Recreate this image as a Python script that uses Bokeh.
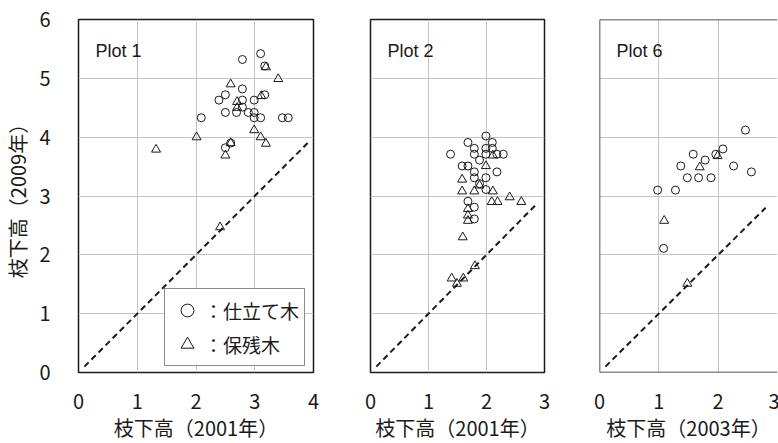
from bokeh.plotting import figure
from bokeh.layouts import row
from bokeh.models import Span, Label, Legend, LegendItem, SingleIntervalTicker, Range1d
from bokeh.embed import file_html
from bokeh.resources import INLINE

# ---- Plot 1: crown base height 2001 vs 2009 ----
p1_pruned_x = [3.10, 2.79, 3.17, 2.79, 2.50, 2.39, 3.17, 2.79, 2.99, 2.09, 2.50, 2.69,
               2.79, 2.89, 2.99, 2.99, 3.10, 3.47, 3.57, 2.50, 2.59]
p1_pruned_y = [5.42, 5.32, 5.21, 4.82, 4.72, 4.63, 4.72, 4.63, 4.63, 4.33, 4.42, 4.42,
               4.51, 4.42, 4.42, 4.33, 4.33, 4.33, 4.33, 3.82, 3.90]
p1_retained_x = [3.19, 3.40, 2.59, 3.11, 2.70, 2.70, 2.99, 3.10, 3.19, 2.01, 1.32, 2.59,
                 2.50, 2.41]
p1_retained_y = [5.19, 4.99, 4.90, 4.70, 4.60, 4.50, 4.12, 4.00, 3.89, 4.00, 3.79, 3.90,
                 3.69, 2.47]

# ---- Plot 2: crown base height 2001 vs 2009 ----
p2_pruned_x = [1.99, 1.68, 2.10, 1.79, 1.99, 2.10, 1.38, 1.79, 1.99, 2.18, 2.29, 1.88,
               1.58, 1.68, 1.79, 2.18, 1.79, 1.99, 1.88, 1.99, 1.68, 1.79, 1.79]
p2_pruned_y = [4.02, 3.91, 3.91, 3.81, 3.81, 3.81, 3.71, 3.71, 3.71, 3.71, 3.71, 3.61,
               3.51, 3.51, 3.41, 3.41, 3.31, 3.31, 3.21, 3.11, 2.91, 2.81, 2.61]
p2_retained_x = [2.11, 1.99, 1.58, 1.88, 1.58, 1.79, 2.11, 2.09, 2.19, 2.40, 2.60, 1.68,
                 1.68, 1.68, 1.59, 1.80, 1.40, 1.60, 1.49]
p2_retained_y = [3.69, 3.51, 3.28, 3.18, 3.08, 3.08, 3.08, 2.90, 2.90, 2.98, 2.90, 2.78,
                 2.67, 2.58, 2.30, 1.81, 1.60, 1.60, 1.51]

# ---- Plot 6: crown base height 2003 vs 2009 ----
p6_pruned_x = [2.46, 2.08, 1.58, 1.96, 1.78, 1.37, 2.26, 2.56, 1.48, 1.67, 1.88, 0.98,
               1.28, 1.08]
p6_pruned_y = [4.12, 3.80, 3.71, 3.71, 3.61, 3.51, 3.51, 3.41, 3.31, 3.31, 3.31, 3.10,
               3.10, 2.11]
p6_retained_x = [1.99, 1.69, 1.09, 1.48]
p6_retained_y = [3.68, 3.49, 2.58, 1.51]

# 1:1 reference lines
p1_line = [0.1, 3.9]
p2_line = [0.1, 2.85]
p6_line = [0.1, 2.8]

panel_titles = ["Plot 1", "Plot 2", "Plot 6"]
x_titles = ["枝下高（2001年）", "枝下高（2001年）", "枝下高（2003年）"]
y_title = "枝下高（2009年）"
legend_labels = ["：仕立て木", "：保残木"]

JP = "Noto Sans CJK JP"
INK = "#1a1a1a"
GRID = "#c4c4c4"


def make_panel(x_max, frame_w, left, right, title, xtitle, px, py, rx, ry, line,
               show_y=False, outline=True):
    p = figure(frame_width=frame_w, frame_height=353,
               min_border_left=left, min_border_right=right,
               min_border_top=19, min_border_bottom=71,
               x_range=Range1d(0, x_max), y_range=Range1d(0, 6),
               output_backend="svg", toolbar_location=None,
               background_fill_color="white", border_fill_color="white")
    p.xaxis.ticker = SingleIntervalTicker(interval=1)
    p.yaxis.ticker = SingleIntervalTicker(interval=1)
    p.xgrid.grid_line_color = GRID
    p.ygrid.grid_line_color = GRID
    p.xgrid.grid_line_width = 1
    p.ygrid.grid_line_width = 1

    for ax in (p.xaxis, p.yaxis):
        ax.major_tick_line_color = None
        ax.minor_tick_line_color = None
        ax.major_tick_out = 0
        ax.major_tick_in = 0
        ax.minor_tick_out = 0
        ax.minor_tick_in = 0
        ax.axis_line_color = None
        ax.major_label_text_font = JP
        ax.major_label_text_font_size = "20px"
        ax.major_label_text_color = INK
        ax.axis_label_text_font = JP
        ax.axis_label_text_font_size = "20px"
        ax.axis_label_text_font_style = "normal"
        ax.axis_label_text_color = INK

    p.xaxis.axis_label = xtitle
    p.xaxis.major_label_standoff = 21
    p.xaxis.axis_label_standoff = 1

    if show_y:
        p.yaxis.axis_label = y_title
        p.yaxis.major_label_standoff = 28
        p.yaxis.axis_label_standoff = 4
    else:
        p.yaxis.visible = False

    if outline:
        p.outline_line_color = INK
        p.outline_line_width = 1.5
    else:
        p.outline_line_color = None
        for loc, dim in ((0, "height"), (6, "width"), (0, "width")):
            p.add_layout(Span(location=loc, dimension=dim, line_color=INK, line_width=1.5))

    p.line(line, line, line_color=INK, line_width=2, line_dash="6 4")
    rc = p.scatter(px, py, marker="circle", size=8, fill_color=None,
                   line_color=INK, line_width=1)
    rt = p.scatter(rx, ry, marker="triangle", size=9, fill_color=None,
                   line_color=INK, line_width=1)

    p.add_layout(Label(x=0, y=6, x_offset=17, y_offset=-31, text=title,
                       text_font="Liberation Sans", text_font_size="18px",
                       text_color=INK, text_baseline="middle"))
    return p, rc, rt


p1, c1, t1 = make_panel(4, 235, 77, 28, panel_titles[0], x_titles[0],
                        p1_pruned_x, p1_pruned_y, p1_retained_x, p1_retained_y,
                        p1_line, show_y=True)
p2, _, _ = make_panel(3, 174, 29, 27, panel_titles[1], x_titles[1],
                      p2_pruned_x, p2_pruned_y, p2_retained_x, p2_retained_y, p2_line)
p6, _, _ = make_panel(3, 178, 28, 2, panel_titles[2], x_titles[2],
                      p6_pruned_x, p6_pruned_y, p6_retained_x, p6_retained_y, p6_line,
                      outline=False)

legend = Legend(items=[LegendItem(label=legend_labels[0], renderers=[c1]),
                       LegendItem(label=legend_labels[1], renderers=[t1])],
                location=(86, 6), orientation="vertical",
                glyph_width=34, glyph_height=32, spacing=2, padding=5, margin=0,
                label_standoff=0, label_text_font=JP, label_text_font_size="19px",
                label_text_color=INK, border_line_color=INK, border_line_width=1.5,
                background_fill_color="white", background_fill_alpha=1.0)
p1.add_layout(legend)

layout = row(p1, p2, p6, spacing=0)

with open("out.html", "w") as f:
    f.write(file_html(layout, INLINE))
